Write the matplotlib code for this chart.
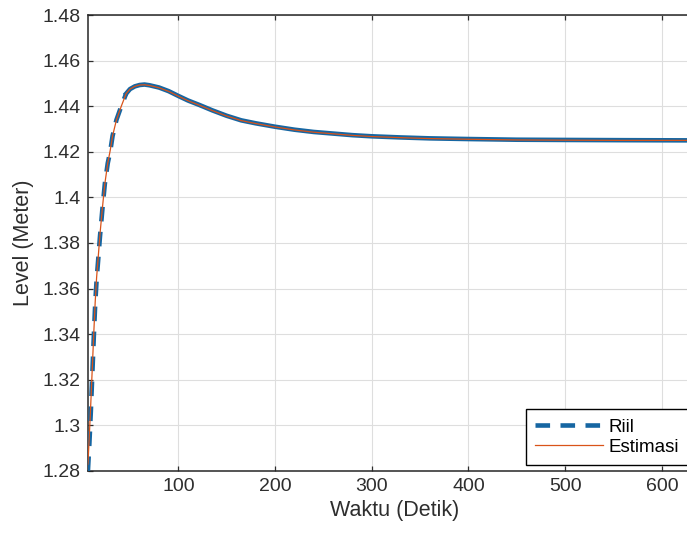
import numpy as np
import matplotlib
matplotlib.use("Agg")
import matplotlib.pyplot as plt

plt.rcParams['font.family'] = ['Liberation Sans', 'DejaVu Sans']
plt.rcParams['lines.scale_dashes'] = False

# measured level (Riil) and model estimate (Estimasi), time in seconds
waktu = [6.5, 8, 9.5, 11, 12.5, 14, 15.5, 17, 19, 21.5, 24, 27, 29.5, 32, 36,
         41, 46, 50, 55, 60, 65, 70, 80, 90, 100, 110, 122, 135, 150, 165,
         180, 200, 220, 240, 260, 280, 300, 330, 360, 400, 450, 500, 560, 640]
level_riil = [1.2800, 1.2920, 1.3060, 1.3220, 1.3380, 1.3530, 1.3640, 1.3720,
              1.3830, 1.3950, 1.4060, 1.4150, 1.4200, 1.4270, 1.4340, 1.4400,
              1.4455, 1.4475, 1.4487, 1.4493, 1.4495, 1.4492, 1.4482, 1.4466,
              1.4445, 1.4425, 1.4405, 1.4382, 1.4358, 1.4338, 1.4325, 1.4310,
              1.4297, 1.4287, 1.4280, 1.4273, 1.4268, 1.4263, 1.4259, 1.4256,
              1.4253, 1.4252, 1.4251, 1.4250]
level_estimasi = [1.2830, 1.2960, 1.3100, 1.3250, 1.3400, 1.3540, 1.3650, 1.3730,
                  1.3840, 1.3955, 1.4060, 1.4150, 1.4205, 1.4270, 1.4340, 1.4400,
                  1.4455, 1.4475, 1.4487, 1.4493, 1.4494, 1.4491, 1.4481, 1.4465,
                  1.4444, 1.4424, 1.4404, 1.4381, 1.4357, 1.4337, 1.4324, 1.4309,
                  1.4296, 1.4286, 1.4279, 1.4272, 1.4267, 1.4262, 1.4258, 1.4255,
                  1.4252, 1.4251, 1.4250, 1.4250]

xticks = [100, 200, 300, 400, 500, 600]
yticks = [1.28, 1.30, 1.32, 1.34, 1.36, 1.38, 1.40, 1.42, 1.44, 1.46, 1.48]

c_riil = '#1666a2'
c_est = '#D95319'
txt = '#2e2e2e'

fig = plt.figure(figsize=(6.87, 5.36), dpi=100)
ax = fig.add_axes([0.1277, 0.1213, 0.892, 0.8507])

# dashed where the level rises fast, solid once the signal flattens out
k = waktu.index(46)
ax.plot(waktu[:k + 1], level_riil[:k + 1], color=c_riil, lw=3.3,
        linestyle=(0, (10.5, 7.5)), solid_capstyle='butt', label='Riil', zorder=3)
ax.plot(waktu[k:], level_riil[k:], color=c_riil, lw=3.3, zorder=3)
ax.plot(waktu, level_estimasi, color=c_est, lw=0.9, label='Estimasi', zorder=4)

ax.set_xlim(6.3, 640)
ax.set_ylim(1.28, 1.48)
ax.set_xticks(xticks)
ax.set_yticks(yticks)
ax.set_yticklabels(['%g' % v for v in yticks])
ax.grid(True, color='#dedede', lw=0.8)
ax.set_axisbelow(True)
ax.tick_params(direction='in', length=3.6, width=0.9, top=True, right=True,
               labelsize=14, colors=txt, pad=5)
for s in ax.spines.values():
    s.set_linewidth(1.1)
    s.set_color('#262626')

ax.set_xlabel('Waktu (Detik)', fontsize=15.5, color=txt, labelpad=4)
ax.set_ylabel('Level (Meter)', fontsize=15.5, color=txt, labelpad=6)

leg = ax.legend(loc='lower left', bbox_to_anchor=(526 / 687, 71 / 536),
                bbox_transform=fig.transFigure, borderaxespad=0,
                fontsize=13.5, handlelength=3.6, handletextpad=0.3,
                labelspacing=0.15, borderpad=0.5, fancybox=False,
                framealpha=1, edgecolor='black')
leg.get_frame().set_linewidth(1.0)

fig.savefig('out.png', dpi=100)
